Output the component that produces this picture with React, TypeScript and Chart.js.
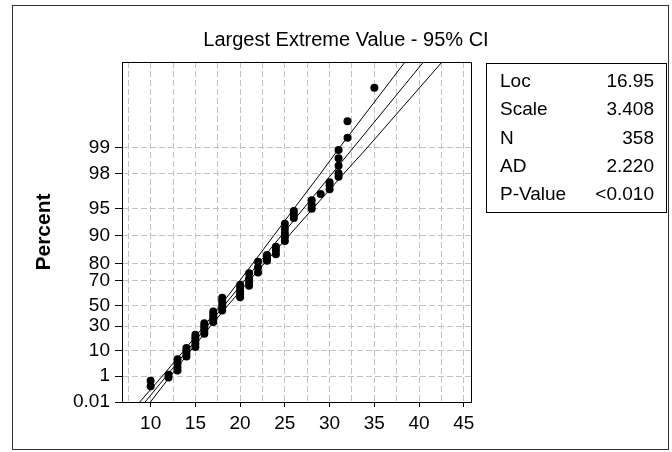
import { useEffect, useRef } from 'react';
import { Chart, registerables } from 'chart.js';

Chart.register(...registerables);

const FONT = "'Liberation Sans', Arial, Helvetica, sans-serif";

// ---------- text ----------
const titleText = 'Largest Extreme Value - 95% CI';
const yAxisTitle = 'Percent';
const statLabels = ['Loc', 'Scale', 'N', 'AD', 'P-Value'];
const statValues = ['16.95', '3.408', '358', '2.220', '<0.010'];

// ---------- axes ----------
const xMin = 6.8;
const xMax = 45.8;
const xGridValues = [7.5, 10, 12.5, 15, 17.5, 20, 22.5, 25, 27.5, 30, 32.5, 35, 37.5, 40, 42.5, 45];
const xTickLabels = ['', '10', '', '15', '', '20', '', '25', '', '30', '', '35', '', '40', '', '45'];
const yMinPercent = 0.01;
const yMaxPercent = 99.9;
const yTickPercents = [0.01, 1, 10, 30, 50, 70, 80, 90, 95, 98, 99];
const yTickLabels = ['0.01', '1', '10', '30', '50', '70', '80', '90', '95', '98', '99'];

// ---------- data points (x value, plotted percents) ----------
const columnX = [10, 12, 13, 14, 15, 16, 17, 18, 20, 21, 22, 23, 24, 25, 26, 28, 29, 30, 31, 32, 35];
const columnPercents = [
  [0.24, 0.55],
  [0.85, 1.2],
  [1.9, 2.7, 3.8, 5.4],
  [6.6, 8.2, 10, 11.6],
  [12.2, 14.5, 17, 19.5, 22],
  [23, 25.5, 28, 30.5, 33],
  [34, 36.5, 39, 42, 44.5],
  [45.5, 48.5, 51.5, 54.5, 57],
  [57.5, 60, 62.5, 65, 67.3],
  [66.6, 69, 71.5, 74.8],
  [75.2, 78, 80.8],
  [81.2, 82.5, 83.7],
  [84, 85.5, 86.7],
  [88.5, 89.6, 90.6, 91.6, 92.6],
  [93.6, 94.2, 94.7],
  [95, 95.5, 96],
  [96.6],
  [97.0, 97.3, 97.5],
  [97.85, 98.04, 98.39, 98.68, 98.94],
  [99.24, 99.51],
  [99.8],
];

// ---------- fitted line and 95% CI ----------
const fitX = [9.38, 40.49];
const fitPercents = [0.01, 99.9];
const ciPercents = [0.01, 1, 10, 30, 50, 70, 80, 90, 95, 98, 99, 99.9];
const ciLeftX = [8.78, 11.3, 13.74, 15.96, 17.79, 19.93, 21.42, 23.77, 26.02, 28.95, 31.08, 38.42];
const ciRightX = [9.98, 12.2, 14.48, 16.68, 18.61, 20.99, 22.7, 25.47, 28.12, 31.55, 34.18, 42.56];

const toZ = (pct: number) => -Math.log(-Math.log(pct / 100));

const points: { x: number; y: number }[] = [];
columnX.forEach((x, i) => {
  columnPercents[i].forEach((p) => points.push({ x, y: toZ(p) }));
});

const lineStyle = {
  type: 'line' as const,
  borderColor: '#000',
  borderWidth: 1,
  pointRadius: 0,
  fill: false,
  tension: 0,
  order: 2,
};

const decorPlugin = {
  id: 'decor',
  afterDraw(chart: any) {
    const { ctx, chartArea } = chart;
    ctx.save();
    // plot box top & right
    ctx.strokeStyle = '#000';
    ctx.lineWidth = 1;
    ctx.beginPath();
    ctx.moveTo(Math.round(chartArea.left) + 0.5, Math.round(chartArea.top) + 0.5);
    ctx.lineTo(Math.round(chartArea.right) + 0.5, Math.round(chartArea.top) + 0.5);
    ctx.lineTo(Math.round(chartArea.right) + 0.5, Math.round(chartArea.bottom) + 0.5);
    ctx.stroke();

    // outer frame
    ctx.strokeStyle = '#333';
    ctx.strokeRect(12.5, 5.5, 656, 444);

    // title
    ctx.fillStyle = '#000';
    ctx.font = `20px ${FONT}`;
    ctx.textAlign = 'center';
    ctx.textBaseline = 'middle';
    ctx.fillText(titleText, 346, 40);

    // stats box
    ctx.strokeStyle = '#000';
    ctx.strokeRect(486.5, 63.5, 180, 149);
    ctx.font = `19px ${FONT}`;
    const rowTop = 81.5;
    const rowStep = 28.4;
    statLabels.forEach((lab, i) => {
      const y = rowTop + i * rowStep;
      ctx.textAlign = 'left';
      ctx.fillText(lab, 500, y);
      ctx.textAlign = 'right';
      ctx.fillText(statValues[i], 654, y);
    });
    ctx.restore();
  },
};

export default function App() {
  const ref = useRef<HTMLCanvasElement>(null);

  useEffect(() => {
    const canvas = ref.current;
    if (!canvas) return;
    const chart = new Chart(canvas, {
      type: 'scatter',
      data: {
        datasets: [
          { ...lineStyle, data: ciLeftX.map((x, i) => ({ x, y: toZ(ciPercents[i]) })) },
          { ...lineStyle, data: fitX.map((x, i) => ({ x, y: toZ(fitPercents[i]) })) },
          { ...lineStyle, data: ciRightX.map((x, i) => ({ x, y: toZ(ciPercents[i]) })) },
          {
            type: 'scatter',
            data: points,
            pointRadius: 4,
            pointBackgroundColor: '#000',
            pointBorderWidth: 0,
            order: 1,
          },
        ] as any,
      },
      options: {
        responsive: false,
        animation: false,
        devicePixelRatio: 1,
        events: [],
        layout: { padding: { left: 20, right: 201, top: 62, bottom: 10 } },
        plugins: {
          legend: { display: false },
          title: { display: false },
          tooltip: { enabled: false },
        },
        scales: {
          x: {
            type: 'linear',
            min: xMin,
            max: xMax,
            afterBuildTicks: (s: any) => {
              s.ticks = xGridValues.map((v) => ({ value: v }));
            },
            afterFit: (s: any) => {
              s.height = 40;
            },
            ticks: {
              autoSkip: false,
              maxRotation: 0,
              minRotation: 0,
              padding: 5,
              color: '#000',
              font: { size: 19, family: FONT },
              callback: (_v: any, i: number) => xTickLabels[i],
            },
            grid: {
              color: '#c2c2c2',
              lineWidth: 1,
              tickLength: 5,
              tickColor: (c: any) => (xTickLabels[c.index] ? '#000' : 'rgba(0,0,0,0)'),
              tickBorderDash: [],
            },
            border: { display: true, color: '#000', width: 1, dash: [6, 3] },
          },
          y: {
            type: 'linear',
            min: toZ(yMinPercent),
            max: toZ(yMaxPercent),
            afterBuildTicks: (s: any) => {
              s.ticks = yTickPercents.map((p) => ({ value: toZ(p) }));
            },
            afterFit: (s: any) => {
              s.width = 102;
            },
            ticks: {
              autoSkip: false,
              padding: 5,
              color: '#000',
              font: { size: 19, family: FONT },
              callback: (_v: any, i: number) => yTickLabels[i],
            },
            grid: {
              color: '#c2c2c2',
              lineWidth: 1,
              tickLength: 7,
              tickColor: '#000',
              tickBorderDash: [],
            },
            border: { display: true, color: '#000', width: 1, dash: [6, 3] },
            title: {
              display: true,
              text: yAxisTitle,
              color: '#000',
              font: { size: 21, weight: 'bold', family: FONT },
              padding: { top: 12, bottom: 0 },
            },
          },
        },
      } as any,
      plugins: [decorPlugin],
    });
    return () => chart.destroy();
  }, []);

  return (
    <div style={{ position: 'absolute', left: 0, top: 0, width: 672, height: 452, background: '#fff' }}>
      <canvas ref={ref} width={672} height={452} style={{ display: 'block', width: 672, height: 452 }} />
    </div>
  );
}
